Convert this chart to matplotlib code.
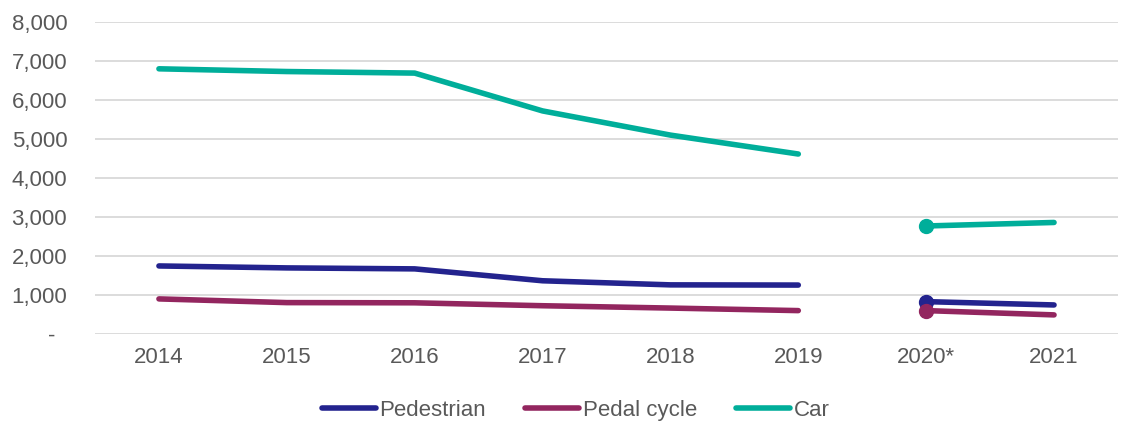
import matplotlib.pyplot as plt
from matplotlib.ticker import FuncFormatter

plt.rcParams['font.family'] = ['Liberation Sans', 'DejaVu Sans']

years = ['2014', '2015', '2016', '2017', '2018', '2019', '2020*', '2021']
pedestrian = [1745, 1695, 1670, 1365, 1260, 1255, 830, 745]
pedal_cycle = [900, 805, 800, 725, 665, 600, 600, 490]
car = [6800, 6730, 6690, 5720, 5100, 4615, 2770, 2860]

series = [('Pedestrian', pedestrian, '#23238e'),
          ('Pedal cycle', pedal_cycle, '#93265f'),
          ('Car', car, '#00ae9a')]

fig = plt.figure(figsize=(11.35, 4.34), dpi=100)
ax = fig.add_axes([0.0837, 0.2304, 0.9013, 0.7189])

x = list(range(len(years)))
for name, vals, col in series:
    # pre-2020 and post-2020 plotted as separate segments
    ax.plot(x[:6], vals[:6], color=col, lw=4, solid_capstyle='round', label=name)
    ax.plot(x[6:], vals[6:], color=col, lw=4, solid_capstyle='round')
    ax.plot(x[6], vals[6], 'o', color=col, ms=10)

ax.set_xlim(-0.5, 7.5)
ax.set_ylim(0, 8000)
ax.set_yticks(range(0, 8001, 1000))
ax.yaxis.set_major_formatter(FuncFormatter(lambda v, p: '-  ' if v == 0 else f'{v:,.0f}'))
ax.set_xticks(x)
ax.set_xticklabels(years)
ax.grid(axis='y', color='#d9d9d9', lw=1.3)
ax.set_axisbelow(True)
for s in ax.spines.values():
    s.set_visible(False)
ax.tick_params(length=0, labelsize=16, colors='#595959')
ax.tick_params(axis='x', pad=9)
ax.tick_params(axis='y', pad=20)

fig.legend(loc='center', bbox_to_anchor=(0.507, 0.055), ncol=3, frameon=False,
           fontsize=16, labelcolor='#595959', handlelength=2.45, handletextpad=0.15,
           columnspacing=1.75)

fig.savefig('out.png')
